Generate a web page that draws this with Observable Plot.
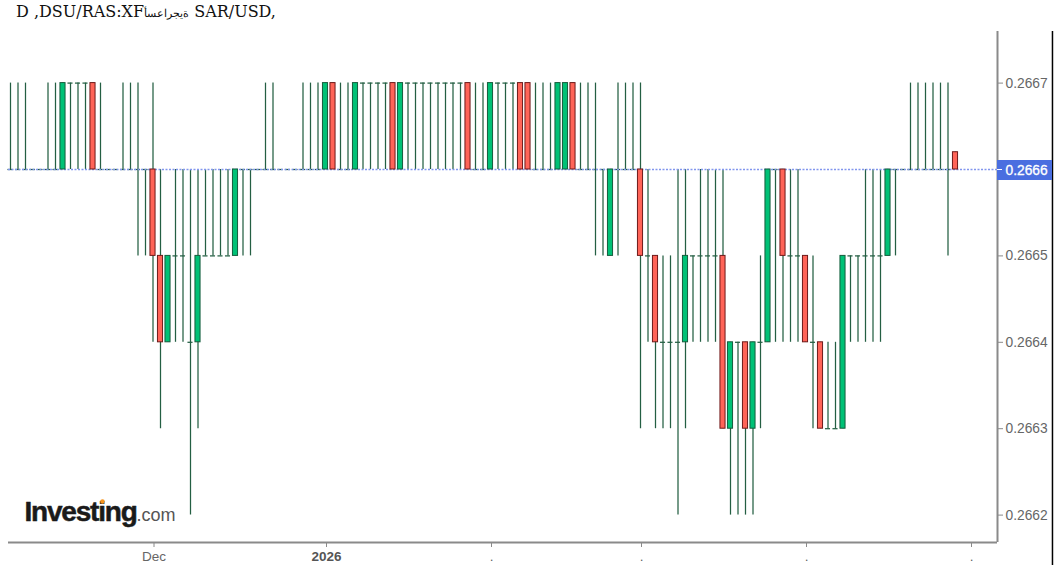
<!DOCTYPE html>
<html>
<head>
<meta charset="utf-8">
<script src="https://cdn.jsdelivr.net/npm/d3@7"></script>
<script src="https://cdn.jsdelivr.net/npm/@observablehq/plot@0.6"></script>
<style>
html,body{margin:0;padding:0;background:#fff;overflow:hidden}
#title{height:24px;padding-left:16px;font:16px/24px "DejaVu Serif",serif;color:#111;white-space:nowrap}
#title span{font-size:11px}
svg{display:block}
</style>
</head>
<body>
<div id="title">D ,DSU/RAS:XF<span dir="rtl">ةيجراعسأ</span> SAR/USD,</div>
<div id="chart"></div>
<script>
const opens = [
.2666,.2666,.2666,.2666,.2666,.2666,.2666,.2666,.2667,.2667,
.2667,.2667,.2666,.2666,.2666,.2666,.2666,.2666,.2666,.2666,
.2665,.2664,.2665,.2665,.2664,.2664,.2665,.2665,.2665,.2665,
.2665,.2666,.2666,.2666,.2666,.2666,.2666,.2666,.2666,.2666,
.2666,.2666,.2666,.2667,.2666,.2666,.2666,.2667,.2667,.2667,
.2667,.2667,.2666,.2667,.2667,.2667,.2667,.2667,.2667,.2667,
.2667,.2667,.2666,.2666,.2666,.2667,.2667,.2667,.2667,.2667,
.2666,.2666,.2666,.2666,.2666,.2667,.2666,.2666,.2666,.2666,
.2665,.2666,.2666,.2666,.2666,.2665,.2665,.2664,.2664,.2664,
.2664,.2665,.2665,.2665,.2665,.2665,.2663,.2664,.2664,.2663,
.2664,.2664,.2666,.2666,.2665,.2665,.2665,.2664,.2664,.2663,
.2663,.2663,.2665,.2665,.2665,.2665,.2665,.2665,.2666,.2666,
.2666,.2666,.2666,.2666,.2666,.2666,.26662];
const highs = [
.2667,.2667,.2667,.2666,.2666,.2667,.2667,.2667,.2667,.2667,
.2667,.2667,.2667,.2666,.2666,.2667,.2667,.2667,.2666,.2667,
.2666,.2665,.2666,.2666,.2666,.2666,.2666,.2666,.2666,.2666,
.2666,.2666,.2666,.2666,.2667,.2667,.2666,.2666,.2666,.2667,
.2667,.2667,.2667,.2667,.2667,.2667,.2667,.2667,.2667,.2667,
.2667,.2667,.2667,.2667,.2667,.2667,.2667,.2667,.2667,.2667,
.2667,.2667,.2667,.2667,.2667,.2667,.2667,.2667,.2667,.2667,
.2667,.2667,.2667,.2667,.2667,.2667,.2667,.2667,.2667,.2666,
.2666,.2667,.2667,.2667,.2667,.2666,.2665,.2665,.2665,.2666,
.2666,.2665,.2666,.2666,.2666,.2666,.2664,.2664,.2664,.2664,
.2665,.2666,.2666,.2666,.2666,.2666,.2665,.2665,.2664,.2664,
.2664,.2665,.2665,.2665,.2666,.2666,.2666,.2666,.2666,.2666,
.2667,.2667,.2667,.2667,.2667,.2667,.26662];
const lows = [
.2666,.2666,.2666,.2666,.2666,.2666,.2666,.2666,.2666,.2666,
.2666,.2666,.2666,.2666,.2666,.2666,.2666,.2665,.2665,.2664,
.2663,.2664,.2664,.2664,.2662,.2663,.2665,.2665,.2665,.2665,
.2665,.2665,.2665,.2666,.2666,.2666,.2666,.2666,.2666,.2666,
.2666,.2666,.2666,.2666,.2666,.2666,.2666,.2666,.2666,.2666,
.2666,.2666,.2666,.2666,.2666,.2666,.2666,.2666,.2666,.2666,
.2666,.2666,.2666,.2666,.2666,.2666,.2666,.2666,.2666,.2666,
.2666,.2666,.2666,.2666,.2666,.2666,.2666,.2666,.2665,.2665,
.2665,.2665,.2666,.2666,.2663,.2664,.2663,.2663,.2663,.2662,
.2663,.2664,.2664,.2664,.2664,.2663,.2662,.2662,.2662,.2662,
.2663,.2664,.2664,.2664,.2664,.2664,.2664,.2663,.2663,.2663,
.2663,.2663,.2664,.2664,.2664,.2664,.2664,.2665,.2665,.2666,
.2666,.2666,.2666,.2666,.2666,.2665,.2666];
const closes = [
.2666,.2666,.2666,.2666,.2666,.2666,.2666,.2667,.2667,.2667,
.2667,.2666,.2666,.2666,.2666,.2666,.2666,.2666,.2666,.2665,
.2664,.2665,.2665,.2665,.2664,.2665,.2665,.2665,.2665,.2665,
.2666,.2666,.2666,.2666,.2666,.2666,.2666,.2666,.2666,.2666,
.2666,.2666,.2667,.2666,.2666,.2666,.2667,.2667,.2667,.2667,
.2667,.2666,.2667,.2667,.2667,.2667,.2667,.2667,.2667,.2667,
.2667,.2666,.2666,.2666,.2667,.2667,.2667,.2667,.2666,.2666,
.2666,.2666,.2666,.2667,.2667,.2666,.2666,.2666,.2666,.2666,
.2666,.2666,.2666,.2666,.2665,.2665,.2664,.2664,.2664,.2664,
.2665,.2665,.2665,.2665,.2665,.2663,.2664,.2664,.2663,.2664,
.2664,.2666,.2666,.2665,.2665,.2665,.2664,.2664,.2663,.2663,
.2663,.2665,.2665,.2665,.2665,.2665,.2665,.2666,.2666,.2666,
.2666,.2666,.2666,.2666,.2666,.2666,.2666];

const yTicks = [.2667,.2666,.2665,.2664,.2663,.2662];
const lastPrice = .2666;
const xTicks = [19,42,64,84,106,128];
const xLabels = ["Dec","2026",".",".",".","."];

const candles = opens.map((o,i)=>({i,o,h:highs[i],l:lows[i],c:closes[i]}));
const bodies = candles.filter(d=>d.o!==d.c);
const flats = candles.filter(d=>d.o===d.c);
const halfBody = 0.34;
const xMin = -0.2667, xMax = 131.6, xEdge = 138.93;
const yMax = 0.26675972, yMin = 0.26616829;
const grey = "#8a8a8a", label = "#666";
const labelOf = t => xLabels[xTicks.indexOf(t)];

const chart = Plot.plot({
  width:1060, height:546,
  marginLeft:8, marginRight:63, marginTop:7, marginBottom:28,
  style:{background:"#fff",fontFamily:"'Liberation Sans',Arial,sans-serif"},
  x:{domain:[xMin,xMax],axis:null,label:null},
  y:{domain:[yMin,yMax],axis:null,label:null},
  marks:[
    // axes
    Plot.ruleY([yMin],{stroke:grey,strokeWidth:2}),
    Plot.ruleX([xMax],{stroke:grey,strokeWidth:2}),
    Plot.ruleX([xEdge],{y1:yMax,y2:yMin,stroke:"#000",strokeWidth:1.5,insetBottom:-23}),
    Plot.axisX(xTicks.filter(t=>labelOf(t)!=="2026"),{anchor:"bottom",label:null,tickSize:5,tickPadding:4,dx:1,fontSize:13.5,
      stroke:grey,fill:label,tickFormat:labelOf}),
    Plot.axisX(xTicks.filter(t=>labelOf(t)==="2026"),{anchor:"bottom",label:null,tickSize:5,tickPadding:4,dx:1,fontSize:13.5,fontWeight:"bold",
      stroke:grey,fill:"#555",tickFormat:labelOf}),
    Plot.axisY(yTicks,{anchor:"right",label:null,tickSize:5,tickPadding:3,fontSize:13.8,stroke:grey,fill:label,tickFormat:d3.format(".4f")}),
    // candles
    Plot.ruleX(candles,{x:"i",y1:"l",y2:"h",stroke:"#245f43",strokeWidth:1.25}),
    Plot.ruleY(flats,{y:"c",x1:d=>d.i-halfBody,x2:d=>d.i+halfBody,stroke:"#245f43",strokeWidth:1.25}),
    Plot.ruleY([lastPrice],{stroke:"#8296ee",strokeWidth:1.5,strokeDasharray:"2,1.5"}),
    Plot.rect(bodies,{x1:d=>d.i-halfBody,x2:d=>d.i+halfBody,y1:"o",y2:"c",
      fill:d=>d.c>d.o?"#00c176":"#ff6458",stroke:d=>d.c>d.o?"#155c3c":"#6e1a1a",strokeWidth:1}),
    // last price tag
    Plot.rect([lastPrice],{x1:xMax,x2:xEdge,y1:d=>d,y2:d=>d,fill:"#4a6ee0",insetTop:-9,insetBottom:-11}),
    Plot.ruleY([lastPrice],{x1:xMax,x2:xMax+0.67,stroke:"#fff",strokeWidth:1}),
    Plot.text([lastPrice],{x:xMax,y:d=>d,text:d3.format(".4f"),dx:8,dy:1,textAnchor:"start",fill:"#fff",stroke:"#fff",strokeWidth:0.3,fontSize:13.8}),
    // brand
    Plot.text(["Investing"],{frameAnchor:"bottom-left",dx:16,dy:-22,text:d=>d,textAnchor:"start",lineAnchor:"bottom",
      fontSize:28,fontWeight:"bold",fill:"#1a1a1a",stroke:"#1a1a1a",strokeWidth:0.5}),
    Plot.text([".com"],{frameAnchor:"bottom-left",dx:128,dy:-22,text:d=>d,textAnchor:"start",lineAnchor:"bottom",
      fontSize:18,fill:"#555"}),
    Plot.dot(["."],{frameAnchor:"bottom-left",dx:94,dy:-41,r:2.2,fill:"#f7941d"})
  ]
});
d3.select(chart).selectAll("text").filter(function(){return this.textContent==="Investing"}).style("letter-spacing","-1.2px");
document.getElementById("chart").append(chart);
</script>
</body>
</html>
